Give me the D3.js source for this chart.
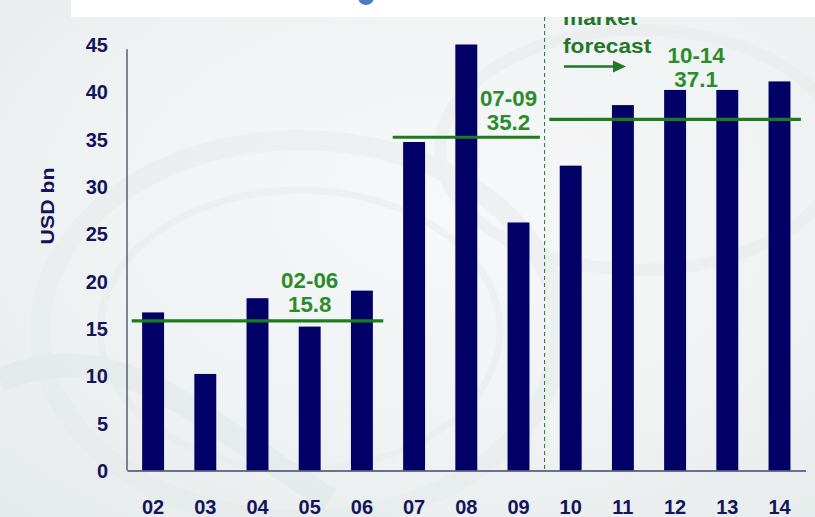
<!DOCTYPE html>
<html>
<head>
<meta charset="utf-8">
<script src="https://cdn.jsdelivr.net/npm/d3@7"></script>
<style>
  html, body { margin: 0; padding: 0; background: #ffffff; }
  svg { display: block; }
  text { font-family: "Liberation Sans", Arial, Helvetica, sans-serif; font-weight: bold; }
</style>
</head>
<body>
<svg id="chart" width="815" height="517"></svg>
<script>
// Annual investment, USD bn (02-09 actual, 10-14 market forecast)
const years = ["02", "03", "04", "05", "06", "07", "08", "09", "10", "11", "12", "13", "14"];
const investment = [16.7, 10.2, 18.2, 15.2, 19.0, 34.7, 45.0, 26.2, 32.2, 38.6, 40.2, 40.2, 41.1];

// Y axis ticks and title
const yTicks = [0, 5, 10, 15, 20, 25, 30, 35, 40, 45];
const yTitle = "USD bn";

// Period averages drawn as horizontal lines
const periodLabels = ["02-06", "07-09", "10-14"];
const periodAverages = [15.8, 35.2, 37.1];
const periodFirst = ["02", "07", "10"];
const periodLast = ["06", "09", "14"];

// Forecast divider
const forecastFrom = "10";
const forecastText = ["market", "forecast"];

const W = 815, H = 517;
const svg = d3.select("#chart");

const NAVY = "#000066";
const INK = "#14145a";
const GREEN_LINE = "#1c7d1c";
const GREEN_TEXT = "#2c8c2c";
const GREEN_DARK = "#24762a";

// ---- background: pale grey-blue paper with a soft watermark ----
const defs = svg.append("defs");
const bg = defs.append("radialGradient").attr("id", "paper")
  .attr("cx", "55%").attr("cy", "40%").attr("r", "80%");
bg.append("stop").attr("offset", "0%").attr("stop-color", "#f6f8f9");
bg.append("stop").attr("offset", "60%").attr("stop-color", "#eff2f3");
bg.append("stop").attr("offset", "100%").attr("stop-color", "#e5eaea");
svg.append("rect").attr("width", W).attr("height", H).attr("fill", "url(#paper)");

const wm = svg.append("g").attr("fill", "none").attr("stroke", "#e3e9e9").attr("opacity", 0.4);
wm.append("ellipse").attr("cx", 300).attr("cy", 330).attr("rx", 260).attr("ry", 190).attr("stroke-width", 20);
wm.append("ellipse").attr("cx", 300).attr("cy", 330).attr("rx", 200).attr("ry", 140).attr("stroke-width", 7);
wm.append("ellipse").attr("cx", 640).attr("cy", 150).attr("rx", 200).attr("ry", 120).attr("stroke-width", 12);
wm.append("path").attr("d", "M0,380 C120,330 200,420 330,500").attr("stroke-width", 24).attr("stroke", "#dce4e3");

// ---- scales ----
const x = d3.scaleBand().domain(years).range([127, 805.6]).paddingInner(0.58).paddingOuter(0.29);
const y = d3.scaleLinear().domain([0, 45]).range([470.5, 44.5]);
const step = x.step(), bw = x.bandwidth();

// text helper with optional horizontal stretch
function label(g, txt, px, py, size, sx, anchor, color, rot) {
  return g.append("text")
    .attr("transform", `translate(${px},${py})` + (rot ? ` rotate(${rot})` : "") + ` scale(${sx},1)`)
    .attr("text-anchor", anchor)
    .attr("font-size", size)
    .attr("fill", color)
    .text(txt);
}

// ---- bars ----
svg.append("g").selectAll("rect").data(years).join("rect")
  .attr("x", d => x(d))
  .attr("y", (d, i) => y(investment[i]))
  .attr("width", bw)
  .attr("height", (d, i) => y(0) - y(investment[i]))
  .attr("fill", NAVY);

// ---- axes ----
const axisG = svg.append("g");
const yAxis = d3.axisLeft(y).tickValues(yTicks).tickSize(0).tickFormat("");
axisG.append("g").attr("transform", "translate(127,0)").call(yAxis)
  .call(g => g.select(".domain").attr("stroke", "#454566").attr("stroke-width", 1.3)
    .attr("d", `M0,${y(0)}V${y(44.5)}`));
const xAxis = d3.axisBottom(x).tickSize(0).tickFormat("");
axisG.append("g").attr("transform", `translate(0,${y(0)})`).call(xAxis)
  .call(g => g.select(".domain").attr("stroke", "#454566").attr("stroke-width", 1.3));

const tickG = svg.append("g");
yTicks.forEach(v => label(tickG, String(v), 108, y(v) + 7.5, 20, 1.0, "end", INK));
years.forEach(d => label(tickG, d, x(d) + bw / 2, 513.5, 20, 1.0, "middle", INK));
label(tickG, yTitle, 54, 206, 19, 1.12, "middle", INK, -90);

// ---- forecast divider ----
const divX = x(forecastFrom) - (step - bw) / 2;
svg.append("line")
  .attr("x1", divX).attr("x2", divX).attr("y1", 10).attr("y2", y(0))
  .attr("stroke", GREEN_DARK).attr("stroke-width", 1).attr("stroke-dasharray", "4,3");

const fg = svg.append("g");
label(fg, forecastText[0], 563, 25, 21, 1.08, "start", GREEN_DARK);
label(fg, forecastText[1], 563, 53, 21, 1.08, "start", GREEN_DARK);
fg.append("path")
  .attr("d", "M564,66.5H620")
  .attr("fill", "none").attr("stroke", GREEN_DARK).attr("stroke-width", 2.6);
fg.append("path")
  .attr("d", "M613,60.5L626,66.5L613,72.5Z")
  .attr("fill", GREEN_DARK);

// ---- period averages ----
const avgG = svg.append("g");
periodLabels.forEach((lab, i) => {
  const x0 = x(periodFirst[i]) - 0.2 * step;
  const x1 = x(periodLast[i]) + bw + 0.2 * step;
  avgG.append("line")
    .attr("x1", x0).attr("x2", x1)
    .attr("y1", y(periodAverages[i])).attr("y2", y(periodAverages[i]))
    .attr("stroke", GREEN_LINE).attr("stroke-width", 3.2);
});

// label placement for each period: anchor bar, horizontal nudge, gap above the line
const labelAnchor = ["05", "09", "12"];
const labelDx = [0, -10, 21];
const labelGap = [9, 7, 32];
periodLabels.forEach((lab, i) => {
  const cx = x(labelAnchor[i]) + bw / 2 + labelDx[i];
  const base = y(periodAverages[i]) - labelGap[i];
  label(avgG, lab, cx, base - 24, 21.5, 1.04, "middle", GREEN_TEXT);
  label(avgG, d3.format(".1f")(periodAverages[i]), cx, base, 21.5, 1.04, "middle", GREEN_TEXT);
});

// ---- white header band across the top ----
svg.append("rect").attr("x", 71).attr("y", 0).attr("width", W - 71).attr("height", 17).attr("fill", "#ffffff");
svg.append("circle").attr("cx", 366).attr("cy", -3).attr("r", 8).attr("fill", "#4a7cc4");
</script>
</body>
</html>
